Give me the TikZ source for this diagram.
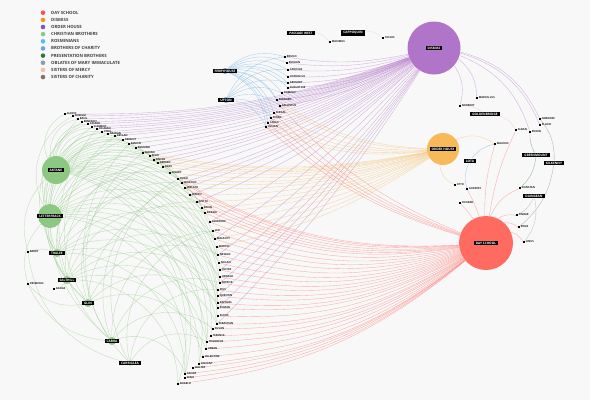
\documentclass[tikz,border=0pt]{standalone}
\usepackage{fontspec}
\setmainfont{Open Sans}
\usetikzlibrary{positioning}
\definecolor{DaySchool}{RGB}{255,107,97}
\definecolor{OrderHouse}{RGB}{247,185,90}
\definecolor{Dismiss}{RGB}{176,116,200}
\definecolor{ChristBro}{RGB}{140,200,130}
\definecolor{Rosmin}{RGB}{79,195,247}
\definecolor{CharityBro}{RGB}{106,165,224}
\definecolor{PresBro}{RGB}{46,125,50}
\definecolor{Oblates}{RGB}{138,155,176}
\definecolor{SisMercy}{RGB}{246,189,169}
\definecolor{SisCharity}{RGB}{141,110,99}
\definecolor{LegRed}{RGB}{244,86,78}
\definecolor{LegOrange}{RGB}{247,148,29}
\definecolor{LegPurple}{RGB}{126,87,194}
\definecolor{PageGray}{RGB}{248,248,248}
\pgfdeclarelayer{paper}
\pgfdeclarelayer{links}
\pgfsetlayers{paper,links,main}

\begin{document}
\begin{tikzpicture}[x=1pt,y=-1pt,
    tag/.style={fill=black,text=white,inner xsep=2pt,inner ysep=1.3pt,
      font=\fontsize{3.2}{3.6}\selectfont\bfseries},
    hub/.style={circle,inner sep=0pt,minimum size=#1},
    leaftext/.style={font=\fontsize{2.7}{3}\selectfont\bfseries,
      text=black!85,inner sep=0.5pt},
    leaf/.style={fill=black,inner sep=0pt,minimum size=1.8pt,
      label={[leaftext]right:#1}},
    legdot/.style={circle,inner sep=0pt,minimum size=4.6pt},
    legtext/.style={font=\fontsize{4.3}{5}\selectfont\bfseries,
      text=black!75,inner sep=0pt},
    edge/.style={line width=0.35pt,draw opacity=0.55},
    dsedge/.style={edge,DaySchool},
    ohedge/.style={edge,OrderHouse},
    diedge/.style={edge,Dismiss},
    cbedge/.style={edge,ChristBro},
    roedge/.style={edge,CharityBro!70!Rosmin},
    chedge/.style={edge,CharityBro},
    pbedge/.style={edge,PresBro},
    obedge/.style={edge,Oblates},
    smedge/.style={edge,SisMercy},
    scedge/.style={edge,SisCharity}]
  \useasboundingbox (0,0) rectangle (590,400);
  \begin{pgfonlayer}{paper}
    \fill[PageGray] (0,0) rectangle (590,400);
  \end{pgfonlayer}

  % legend
  \foreach \c/\t [count=\k] in {LegRed/DAY SCHOOL,LegOrange/DISMISS,
      LegPurple/ORDER HOUSE,ChristBro/CHRISTIAN BROTHERS,Rosmin/ROSMINIANS,
      CharityBro/BROTHERS OF CHARITY,PresBro/PRESENTATION BROTHERS,
      Oblates/OBLATES OF MARY IMMACULATE,SisMercy/SISTERS OF MERCY,
      SisCharity/SISTERS OF CHARITY} {
    \node[legdot,fill=\c] (dot\k) at (43,{12.7+7.15*(\k-1)}) {};
    \node[legtext,right=8pt of dot\k.center,anchor=west] (leg\k) {\t};
  }

  % hubs
  \node[hub=53pt,fill=Dismiss] (dismiss) at (434,48) {};
  \node[hub=32pt,fill=OrderHouse] (orderhouse) at (443,149) {};
  \node[hub=54pt,fill=DaySchool] (dayschool) at (486,243) {};
  \node[hub=28pt,fill=ChristBro] (artane) at (56,170) {};
  \node[hub=24pt,fill=ChristBro] (letterfrack) at (50,216) {};
  \node[hub=8pt,fill=ChristBro] (tralee) at (57,253) {};
  \node[hub=8pt,fill=ChristBro] (salthill) at (67,280) {};
  \node[hub=8pt,fill=ChristBro] (glin) at (88,303) {};
  \node[hub=8pt,fill=ChristBro] (cabra) at (112,341) {};
  \node[hub=5pt,fill=ChristBro] (carriglea) at (130,363) {};
  \node[hub=6pt,fill=CharityBro] (ferryhouse) at (225,71) {};
  \node[hub=6pt,fill=CharityBro] (upton) at (226,100) {};

  \node[tag] at (dismiss) {DISMISS};
  \node[tag] at (orderhouse) {ORDER HOUSE};
  \node[tag] at (dayschool) {DAY SCHOOL};
  \node[tag] at (artane) {ARTANE};
  \node[tag] at (letterfrack) {LETTERFRACK};
  \node[tag] at (tralee) {TRALEE};
  \node[tag] at (salthill) {SALTHILL};
  \node[tag] at (glin) {GLIN};
  \node[tag] at (cabra) {CABRA};
  \node[tag] at (carriglea) {CARRIGLEA};
  \node[tag] at (ferryhouse) {FERRYHOUSE};
  \node[tag] at (upton) {UPTON};
  \node[tag] (passagewest) at (301,33) {PASSAGE WEST};
  \node[tag] (cappoquin) at (353,33) {CAPPOQUIN};
  \node[tag] (goldenbridge) at (485,114) {GOLDENBRIDGE};
  \node[tag] (lota) at (470,161) {LOTA};
  \node[tag] (greenmount) at (536,155) {GREENMOUNT};
  \node[tag] (kilkenny) at (554,163) {KILKENNY};
  \node[tag] (daingean) at (534,196) {DAINGEAN};

  % brothers along the sweep
  \foreach \x/\y/\n [count=\i] in {65/114/ALDRIC,73/116/ANSELM,78/119/BASIL,
      82/122/BENEDICT,88/124/CASPAR,92/127/CLEMENT,97/129/COLMAN,
      102/132/CYRIL,108/134/DAMIAN,115/136/DECLAN,123/140/DERMOT,
      129/144/EAMON,136/148/EDMUND,143/153/FABIAN,150/156/FELIX,
      154/160/FINIAN,158/163/GERARD,163/167/GILES,170/173/HILARY,
      178/179/HUGO,182/183/IGNATIUS,185/188/JARLATH,190/195/JOSEPH,
      197/202/JUSTIN,202/208/KEVIN,205/213/KIERAN,210/222/LAURENCE,
      213/231/LEO,215/239/MALACHY,217/247/MARTIN,218/255/NESSAN,
      219/263/NOLAN,220/270/OLIVER,220/277/OSWALD,220/283/PATRICK,
      218/290/PIUS,218/296/QUENTIN,218/303/RAPHAEL,218/308/ROMAN,
      218/316/RUFUS,217/324/SEBASTIAN,213/329/SILVAN,211/336/TERENCE,
      207/342/THADDEUS,206/349/URBAN,203/357/VALENTINE,199/364/VINCENT,
      193/368/WALTER,185/374/XAVIER,185/378/ZENO,178/384/ANGELO}
    \node[leaf=\n] (c\i) at (\x,\y) {};
  \foreach \x/\y/\n [count=\i] in {285/57/BRUNO,287/63/EMILIAN,
      288/70/CANISIUS,288/77/CORNELIUS,288/83/GREGORY,288/88/AUGUSTINE,
      282/93/DOMINIC,277/100/BERNARD,280/106/CALLIXTUS,274/113/FERGAL,
      271/118/AIDAN,268/123/CARLO,266/127/LUCIAN}
    \node[leaf=\n] (t\i) at (\x,\y) {};
  \foreach \x/\y/\n [count=\i] in {477/98/MARCELLUS,460/106/NORBERT,
      540/119/AMBROSE,540/125/PLACID,516/130/ALBAN,530/132/EDWIN,
      495/144/MAURUS,455/185/OTTO,467/189/GODFREY,460/203/CONRAD,
      520/188/DUNSTAN,517/215/FINBAR,519/227/REGIS,524/242/LINUS}
    \node[leaf=\n] (r\i) at (\x,\y) {};
  \node[leaf=MAXIMUS] (s1) at (330,42) {};
  \node[leaf=CELSUS] (s2) at (383,38) {};
  \node[leaf=BARRY] (f1) at (28,252) {};
  \node[leaf=DESMOND] (f2) at (28,284) {};
  \node[leaf=GILDAS] (f3) at (54,289) {};

  \begin{pgfonlayer}{links}
    % dismissed
    \foreach \i in {1,...,24}
      \draw[diedge] (dismiss) to[bend left=10] (c\i);
    \foreach \i in {27,29,...,41}
      \draw[diedge] (dismiss) to[bend left=6] (c\i);
    \foreach \i in {1,...,9}
      \draw[diedge] (dismiss) to[bend left=10] (t\i);
    \foreach \i in {1,2,3,4,6}
      \draw[diedge] (dismiss) to[bend left=25] (r\i);
    % order house
    \foreach \i in {14,...,30}
      \draw[ohedge] (orderhouse) to[bend left=10] (c\i);
    \foreach \i in {8,...,13}
      \draw[ohedge] (orderhouse) to[bend left=15] (t\i);
    \draw[ohedge] (orderhouse) to[bend left=30] (r7);
    \draw[ohedge] (orderhouse) to[bend right=30] (r8);
    % day school
    \foreach \i in {20,...,51}
      \draw[dsedge] (dayschool) to[bend left=16] (c\i);
    \foreach \i in {9,...,13}
      \draw[dsedge] (dayschool) to[bend left=12] (t\i);
    \foreach \i in {5,7}
      \draw[dsedge] (dayschool) to[bend left=8] (r\i);
    \foreach \i in {9,10}
      \draw[dsedge] (dayschool) to[bend right=5] (r\i);
    \foreach \i in {11,...,14}
      \draw[dsedge] (dayschool) to[bend left=22] (r\i);
    % christian brothers
    \foreach \i in {1,3,...,51}
      \draw[cbedge] (artane) to[bend left=45] (c\i);
    \foreach \i in {2,5,...,50}
      \draw[cbedge] (letterfrack) to[bend left=45] (c\i);
    \foreach \i in {4,9,...,49}
      \draw[cbedge] (tralee) to[bend left=45] (c\i);
    \foreach \i in {6,11,...,51}
      \draw[cbedge] (salthill) to[bend left=45] (c\i);
    \foreach \i in {3,10,...,45}
      \draw[cbedge] (glin) to[bend left=45] (c\i);
    \foreach \i in {7,14,...,49}
      \draw[cbedge] (cabra) to[bend left=45] (c\i);
    \foreach \i in {12,20,...,44}
      \draw[cbedge] (carriglea) to[bend left=45] (c\i);
    \draw[cbedge] (artane) to[bend right=25] (letterfrack);
    \draw[cbedge] (letterfrack) to[bend right=20] (tralee);
    \draw[cbedge] (artane) to[bend right=30] (glin);
    \draw[cbedge] (artane) to[bend right=30] (cabra);
    \draw[cbedge] (tralee) to[bend right=20] (f1);
    \draw[cbedge] (artane) to[bend right=30] (f1);
    \draw[cbedge] (letterfrack) to[bend right=30] (f2);
    \draw[cbedge] (salthill) to[bend left=20] (f3);
    \draw[cbedge] (glin) to[bend left=30] (f2);
    \draw[cbedge] (cabra) to[bend left=30] (f2);
    \draw[cbedge] (carriglea) to[bend left=35] (f1);
    % ferryhouse and upton
    \foreach \i in {1,...,13}
      \draw[roedge] (ferryhouse) to[bend left=30] (t\i);
    \foreach \i in {1,3,...,13}
      \draw[roedge] (upton) to[bend left=30] (t\i);
    % the smaller orders
    \draw[smedge] (passagewest) to[bend left=20] (s1);
    \draw[smedge] (cappoquin) to[bend left=20] (s2);
    \draw[smedge] (goldenbridge) to[bend right=20] (r2);
    \draw[smedge] (goldenbridge) to[bend left=20] (r5);
    \draw[chedge] (lota) to[bend left=20] (r7);
    \draw[chedge] (lota) to[bend right=20] (r9);
    \draw[pbedge] (greenmount) to[bend left=15] (r6);
    \draw[pbedge] (greenmount) to[bend left=20] (r11);
    \draw[scedge] (kilkenny) to[bend right=20] (r3);
    \draw[scedge] (kilkenny) to[bend left=20] (r13);
    \draw[obedge] (daingean) to[bend left=20] (r12);
    \draw[obedge] (daingean) to[bend left=25] (r14);
  \end{pgfonlayer}
\end{tikzpicture}
\end{document}
